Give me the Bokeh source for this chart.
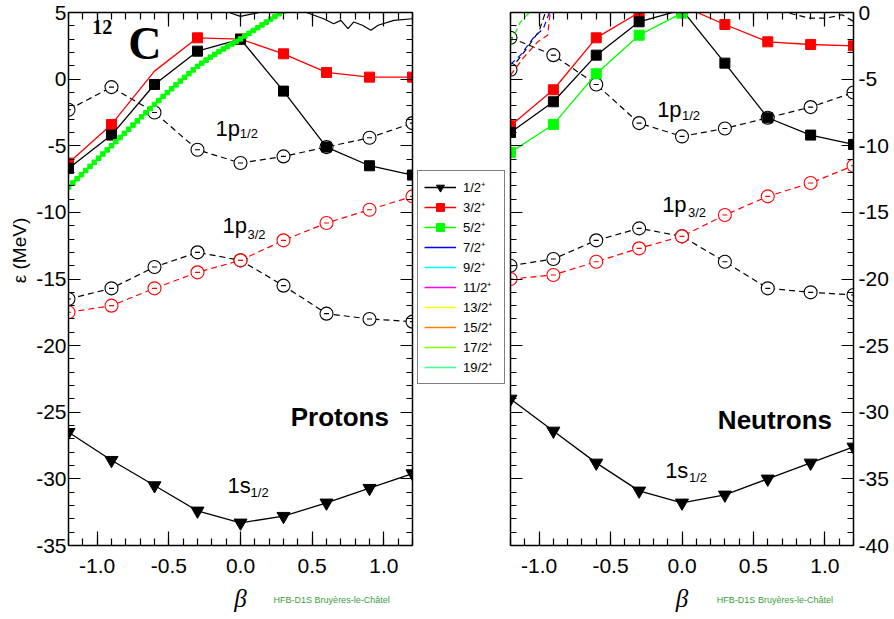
from bokeh.plotting import figure
from bokeh.layouts import row, column
from bokeh.models import (LinearAxis, SingleIntervalTicker, PrintfTickFormatter, Label,
                          Legend, LegendItem, Range1d)
from bokeh.embed import file_html
from bokeh.resources import INLINE

# ---------------- data ----------------
beta = [-1.2, -0.9, -0.6, -0.3, 0.0, 0.3, 0.6, 0.9, 1.2]

# Protons
p_1s12 = [-26.5, -28.6, -30.5, -32.4, -33.3, -32.8, -31.8, -30.7, -29.6]
p_1p32_k12 = [-16.5, -15.7, -14.1, -13.0, -13.6, -15.5, -17.6, -18.0, -18.2]
p_1p32_k32 = [-17.5, -17.0, -15.7, -14.5, -13.6, -12.1, -10.8, -9.8, -8.8]
p_1p12 = [-2.3, -0.6, -2.5, -5.3, -6.3, -5.8, -5.1, -4.4, -3.3]
p_pos_k12 = [-6.7, -4.2, -0.4, 2.1, 3.0, -0.9, -5.1, -6.5, -7.2]
p_pos_k32 = [-6.3, -3.4, 0.6, 3.1, 3.0, 1.9, 0.5, 0.15, 0.15]
p_pos_k32_nomarker = [2]
p_k52_beta = [-1.20, -1.17, -1.14, -1.11, -1.08, -1.05, -1.02, -0.99, -0.96, -0.93,
              -0.90, -0.87, -0.84, -0.81, -0.78, -0.75, -0.72, -0.69, -0.66, -0.63,
              -0.60, -0.57, -0.54, -0.51, -0.48, -0.45, -0.42, -0.39, -0.36, -0.33,
              -0.30, -0.27, -0.24, -0.21, -0.18, -0.15, -0.12, -0.09, -0.06, -0.03,
              0.00, 0.03, 0.06, 0.09, 0.12, 0.15, 0.18, 0.21, 0.24, 0.27, 0.30]
p_k52_e = [-8.10, -7.79, -7.48, -7.17, -6.86, -6.55, -6.24, -5.93, -5.62, -5.31,
           -5.00, -4.69, -4.38, -4.07, -3.76, -3.45, -3.14, -2.83, -2.52, -2.21,
           -1.90, -1.60, -1.30, -1.01, -0.72, -0.43, -0.15, 0.13, 0.41, 0.69,
           0.96, 1.20, 1.43, 1.65, 1.86, 2.06, 2.26, 2.45, 2.64, 2.83,
           3.02, 3.23, 3.44, 3.65, 3.86, 4.07, 4.28, 4.49, 4.70, 4.91, 5.12]
p_top_beta = [-0.14, -0.07, 0.0, 0.09, 0.19, 0.30, 0.47, 0.58, 0.65, 0.70, 0.75,
              0.79, 0.85, 0.91, 0.96, 1.07, 1.2]
p_top_e = [5.4, 4.96, 4.71, 4.91, 5.15, 5.6, 4.96, 4.53, 4.16, 4.41, 3.79,
           4.29, 4.04, 3.67, 4.04, 4.41, 4.53]

# Neutrons
n_1s12 = [-29.0, -31.4, -33.8, -35.9, -36.8, -36.2, -35.0, -33.8, -32.6]
n_1p32_k12 = [-19.0, -18.5, -17.1, -16.2, -16.8, -18.7, -20.7, -21.0, -21.2]
n_1p32_k32 = [-20.0, -19.7, -18.7, -17.7, -16.8, -15.2, -13.8, -12.8, -11.5]
n_1p12 = [-1.9, -3.2, -5.4, -8.3, -9.3, -8.7, -7.9, -7.1, -6.0]
n_pos_k12 = [-9.0, -6.7, -3.2, -0.7, 0.2, -3.8, -7.9, -9.2, -9.9]
n_pos_k32 = [-8.5, -5.8, -1.9, 0.0, 0.5, -0.9, -2.2, -2.4, -2.5]
n_pos_k52 = [-10.5, -8.4, -4.6, -1.7, -0.05]
n_rise_k12_beta = [-1.2, -1.1, -1.0, -0.95]
n_rise_k12_e = [-4.3, -2.9, -1.4, 0.2]
n_rise_k72_beta = [-1.2, -1.13, -1.04, -0.97, -0.92]
n_rise_k72_e = [-3.9, -3.2, -1.9, -1.2, 0.2]
n_rise_k32_beta = [-1.2, -1.11, -1.01, -0.94, -0.92]
n_rise_k32_e = [-4.7, -3.4, -2.2, -1.7, 0.2]
n_rise_k52_beta = [-1.2, -1.13, -1.05]
n_rise_k52_e = [-2.3, -0.7, 0.2]
n_top_beta = [0.62, 0.75, 0.89, 1.01, 1.12, 1.2]
n_top_e = [0.4, -0.05, -0.42, -0.42, -0.17, -0.67]

legend_labels = ["1/2⁺", "3/2⁺", "5/2⁺", "7/2⁺", "9/2⁺", "11/2⁺", "13/2⁺", "15/2⁺", "17/2⁺", "19/2⁺"]
legend_colors = ["#000000", "#ff0000", "#00ff00", "#0000ff", "#00ffff", "#ff00ff",
                 "#ffff00", "#ff8000", "#80ff00", "#40ff90"]

BLACK, RED, GREEN, BLUE = "#000000", "#ff0000", "#00ff00", "#0000ff"
FONT = "Liberation Sans"
MAIN_H = 581
FOOT_H = 37
NAN = float("nan")


def bare_fig(width, height, xr, yr, **kw):
    p = figure(width=width, height=height, x_range=xr, y_range=yr,
               output_backend="svg", toolbar_location=None,
               x_axis_location=None, y_axis_location=None,
               outline_line_color=None, **kw)
    for g in p.grid:
        g.visible = False
    return p


def make_fig(width, ylo, yhi, mbl, mbr, label_side):
    p = bare_fig(width, MAIN_H, Range1d(-1.2, 1.2), Range1d(ylo, yhi),
                 min_border_left=mbl, min_border_right=mbr, min_border_top=12, min_border_bottom=36)
    common = dict(axis_line_width=1.5, major_tick_out=0, minor_tick_out=0,
                  major_tick_line_width=1.2, minor_tick_line_width=1.2,
                  major_label_text_font=FONT)
    for side in ["below", "above"]:
        shown = side == "below"
        ax = LinearAxis(ticker=SingleIntervalTicker(interval=0.5, num_minor_ticks=5),
                        formatter=PrintfTickFormatter(format="%.1f"),
                        major_tick_in=14, minor_tick_in=7,
                        major_label_text_font_size="21px" if shown else "1px",
                        major_label_text_color="black" if shown else None,
                        major_label_standoff=13 if shown else 0, **common)
        p.add_layout(ax, side)
    for side in ["left", "right"]:
        shown = side == label_side
        ax = LinearAxis(ticker=SingleIntervalTicker(interval=5, num_minor_ticks=5),
                        formatter=PrintfTickFormatter(format="%d"),
                        major_tick_in=12, minor_tick_in=6,
                        major_label_text_font_size="21px" if shown else "1px",
                        major_label_text_color="black" if shown else None,
                        major_label_standoff=(2 if side == "left" else 5) if shown else 0, **common)
        if shown and side == "left":
            ax.axis_label = "\u2003\u2003\u2003ε (MeV)"
            ax.axis_label_text_font = FONT
            ax.axis_label_text_font_style = "normal"
            ax.axis_label_text_font_size = "19px"
            ax.axis_label_text_color = "black"
            ax.axis_label_standoff = 3
        p.add_layout(ax, side)
    return p


def lab(p, x, y, text, size, font=FONT, style="normal", color="black",
        align="left", baseline="middle", angle=0.0):
    p.add_layout(Label(x=x, y=y, text=text, text_font=font, text_font_size=f"{size}px",
                       text_font_style=style, text_color=color, text_align=align,
                       text_baseline=baseline, angle=angle))


def footer(width, mbl, mbr, label_x):
    f = bare_fig(width, FOOT_H, Range1d(-1.2, 1.2), Range1d(0, FOOT_H),
                 min_border_left=mbl, min_border_right=mbr, min_border_top=0, min_border_bottom=0)
    lab(f, 0.0, 20, "β", 25, font="Liberation Serif", style="italic", align="center")
    lab(f, label_x, 19, "HFB-D1S Bruyères-le-Châtel", 9, color="#3c9e3c")
    return f


def dashed_circles(p, xs, ys, color):
    p.line(xs, ys, line_color=color, line_dash="6 4", line_width=1.2)
    p.scatter(xs, ys, marker="circle", size=13, line_color=color, fill_color="white", line_width=1.1)
    p.scatter(xs, ys, marker="dash", size=5, line_color=color, line_width=1.1)


def solid_squares(p, xs, ys, color, size=10, skip=()):
    p.line(xs, ys, line_color=color, line_width=1.3)
    mx = [x for i, x in enumerate(xs) if i not in skip]
    my = [y for i, y in enumerate(ys) if i not in skip]
    p.scatter(mx, my, marker="square", size=size, color=color)


def triangles(p, xs, ys):
    p.line(xs, ys, line_color=BLACK, line_width=1.3)
    p.scatter(xs, ys, marker="inverted_triangle", size=13, color=BLACK)


# ---------------- Protons ----------------
pl = make_fig(414, -35, 5, 68, 2, "left")
dashed_circles(pl, beta, p_1p12, BLACK)
dashed_circles(pl, beta, p_1p32_k12, BLACK)
dashed_circles(pl, beta, p_1p32_k32, RED)
pl.line(p_top_beta, p_top_e, line_color=BLACK, line_width=1.2)
solid_squares(pl, beta, p_pos_k32, RED, skip=p_pos_k32_nomarker)
solid_squares(pl, beta, p_pos_k12, BLACK)
pl.line(p_k52_beta, p_k52_e, line_color=GREEN, line_width=1.5)
pl.scatter(p_k52_beta, p_k52_e, marker="square", size=4.5, color=GREEN)
triangles(pl, beta, p_1s12)

lab(pl, -1.035, 3.9, "12", 20, font="Liberation Serif", style="bold")
lab(pl, -0.783, 2.64, "C", 46, font="Liberation Serif", style="bold")
lab(pl, -0.175, -3.68, "1p", 22)
lab(pl, -0.005, -4.09, "1/2", 13)
lab(pl, -0.126, -11.0, "1p", 22)
lab(pl, 0.049, -11.64, "3/2", 13)
lab(pl, -0.091, -30.52, "1s", 22)
lab(pl, 0.07, -31.0, "1/2", 13)
lab(pl, 0.35, -25.39, "Protons", 26, style="bold")
pl_foot = footer(414, 68, 2, 0.231)

# ---------------- Legend ----------------
pm = bare_fig(95, MAIN_H + FOOT_H, Range1d(0, 1), Range1d(0, 1), min_border=0)
items = []
markers = {0: ("inverted_triangle", 12), 1: ("square", 10), 2: ("square", 5)}
for i, (lbl, col) in enumerate(zip(legend_labels, legend_colors)):
    rs = [pm.line(x=[NAN], y=[NAN], line_color=col, line_width=1.5)]
    if i in markers:
        mk, sz = markers[i]
        rs.append(pm.scatter(x=[NAN], y=[NAN], marker=mk, size=sz, color=col))
    items.append(LegendItem(label=lbl, renderers=rs))
leg = Legend(items=items, location=(3, 234), border_line_color="black", border_line_width=1,
             background_fill_color="white", background_fill_alpha=1.0, padding=6, spacing=0, margin=0,
             glyph_width=32, glyph_height=20, label_height=20, label_width=35, label_standoff=7,
             label_text_font=FONT, label_text_font_size="13px", label_text_color="black")
pm.add_layout(leg)

# ---------------- Neutrons ----------------
pr = make_fig(385, -40, 0, 1, 41, "right")
dashed_circles(pr, beta, n_1p12, BLACK)
dashed_circles(pr, beta, n_1p32_k12, BLACK)
dashed_circles(pr, beta, n_1p32_k32, RED)
pr.line(n_rise_k12_beta, n_rise_k12_e, line_color=BLACK, line_dash="6 4", line_width=1.2)
pr.scatter(n_rise_k12_beta[:1], n_rise_k12_e[:1], marker="circle", size=13, line_color=BLACK,
           fill_color="white", line_width=1.1)
pr.line(n_rise_k52_beta, n_rise_k52_e, line_color=GREEN, line_dash="6 4", line_width=1.2)
pr.line(n_rise_k72_beta, n_rise_k72_e, line_color=BLUE, line_dash="6 4", line_width=1.2)
pr.line(n_rise_k32_beta, n_rise_k32_e, line_color=RED, line_dash="6 4", line_width=1.2)
pr.line(n_top_beta, n_top_e, line_color=BLACK, line_dash="6 4", line_width=1.2)
solid_squares(pr, beta, n_pos_k32, RED)
solid_squares(pr, beta, n_pos_k12, BLACK)
solid_squares(pr, beta[:len(n_pos_k52)], n_pos_k52, GREEN)
triangles(pr, beta, n_1s12)

lab(pr, -0.174, -7.30, "1p", 22)
lab(pr, 0.0, -7.75, "1/2", 13)
lab(pr, -0.139, -14.42, "1p", 22)
lab(pr, 0.042, -14.98, "3/2", 13)
lab(pr, -0.118, -34.38, "1s", 22)
lab(pr, 0.049, -34.91, "1/2", 13)
lab(pr, 0.251, -30.56, "Neutrons", 26, style="bold")
pr_foot = footer(385, 1, 41, 0.244)

layout = row(column(pl, pl_foot), pm, column(pr, pr_foot))
open("out.html", "w").write(file_html(layout, INLINE))
